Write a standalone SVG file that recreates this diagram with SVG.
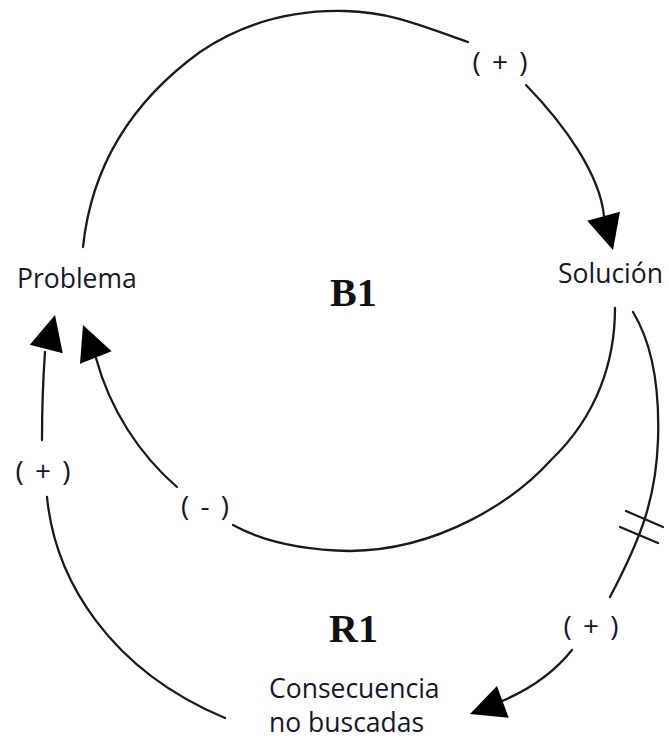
<svg xmlns="http://www.w3.org/2000/svg" xmlns:xlink="http://www.w3.org/1999/xlink" width="669" height="743" viewBox="0 0 669 743">
  <style>
    .link { fill: none; stroke: #1a1a1a; stroke-width: 2.3; stroke-linecap: round; }
    .head { fill: #000; }
    .node { font-family: "Open Sans", "Noto Sans", sans-serif; font-size: 26.5px; fill: #16162a; }
    .loop { font-family: "Liberation Serif", "DejaVu Serif", serif; font-weight: bold; font-size: 40px; fill: #111; }
    .sign { font-family: "Open Sans", "Noto Sans", sans-serif; font-size: 28px; fill: #16162a; text-anchor: middle; word-spacing: 4px; }
  </style>
  <defs>
    <!-- arrowhead pointing along +x, tip at the origin -->
    <path id="arrowhead" class="head" d="M0,0 L-35,-17 L-35,17 Z"/>
  </defs>
  <rect width="669" height="743" fill="#ffffff"/>

  <g id="connectors">
    <!-- Problema -> Solución (+) -->
    <path class="link" d="M83,247 C90,180 120,110 200,52 C250,18 300,10 345,11 C390,12 420,25 468,42"/>
    <path class="link" d="M526,85 C565,125 600,175 604,216"/>
    <use xlink:href="#arrowhead" transform="translate(613,250) rotate(74.4)"/>

    <!-- Solución -> Problema (-) -->
    <path class="link" d="M615,308 C615,360 598,415 551,460 C515,500 440,550 350,551 C300,550 260,540 233,525"/>
    <path class="link" d="M177,487 C140,455 110,410 96,358"/>
    <use xlink:href="#arrowhead" transform="translate(83,325) rotate(-111.5)"/>

    <!-- Solución -> Consecuencia no buscadas (+), delayed -->
    <path class="link" d="M633,312 C650,340 660,380 658,440 C656,500 640,540 610,597"/>
    <line class="link" x1="626" y1="511" x2="663" y2="527"/>
    <line class="link" x1="620" y1="527" x2="658" y2="543"/>
    <path class="link" d="M572,650 C560,665 540,685 502,701"/>
    <use xlink:href="#arrowhead" transform="translate(470,714) rotate(159.7)"/>

    <!-- Consecuencia no buscadas -> Problema (+) -->
    <path class="link" d="M225,718 C110,670 55,580 47,497"/>
    <path class="link" d="M42,440 C42,410 43,380 45,352"/>
    <use xlink:href="#arrowhead" transform="translate(55,315) rotate(-75.6)"/>
  </g>

  <g id="problema">
    <text class="node" x="17" y="288">Problema</text>
  </g>
  <g id="solucion">
    <text class="node" x="558" y="283">Solución</text>
  </g>
  <g id="consecuencia">
    <text class="node" x="269" y="698">Consecuencia</text>
    <text class="node" x="269" y="732">no buscadas</text>
  </g>

  <g id="loop-labels">
    <text class="loop" x="330" y="306">B1</text>
    <text class="loop" x="329" y="642">R1</text>
  </g>

  <g id="polarity-labels">
    <text class="sign" x="500" y="72">( + )</text>
    <text class="sign" x="43" y="481">( + )</text>
    <text class="sign" x="205" y="516">( - )</text>
    <text class="sign" x="591" y="636">( + )</text>
  </g>
</svg>
